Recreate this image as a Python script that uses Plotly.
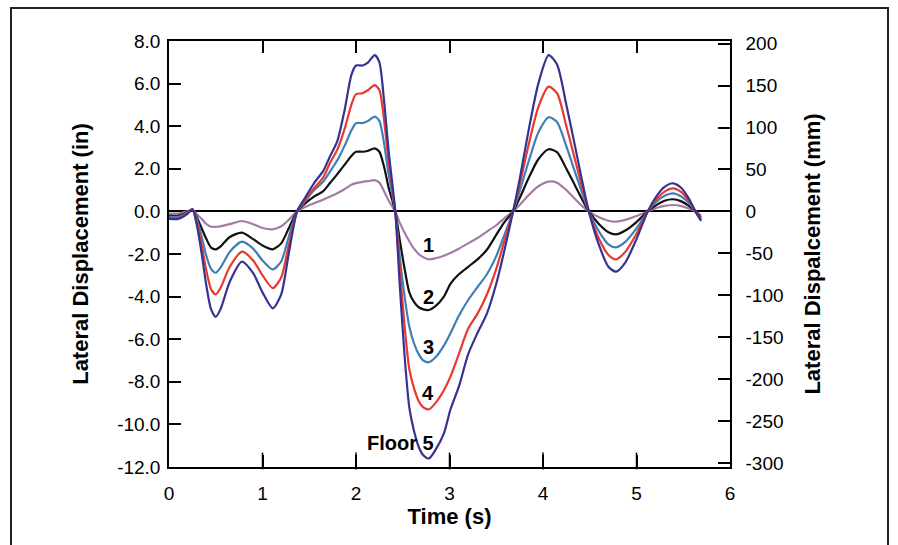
import plotly.graph_objects as go

# ---------------- data ----------------
time_s = [0.0, 0.1, 0.2, 0.25, 0.3, 0.35, 0.4, 0.45, 0.5, 0.55, 0.65, 0.78, 0.9, 1.0,
          1.11, 1.2, 1.28, 1.37, 1.45, 1.55, 1.65, 1.72, 1.8, 1.88, 1.95, 2.0, 2.07,
          2.13, 2.2, 2.25, 2.3, 2.35, 2.42, 2.47, 2.52, 2.57, 2.62, 2.67, 2.72, 2.78,
          2.85, 2.94, 3.01, 3.1, 3.2, 3.3, 3.4, 3.5, 3.58, 3.68, 3.75, 3.85, 3.95,
          4.06, 4.15, 4.25, 4.35, 4.42, 4.49, 4.6, 4.7, 4.78, 4.88, 5.0, 5.12, 5.22,
          5.3, 5.39, 5.48, 5.56, 5.63, 5.69]

floor1 = [-0.1, -0.1, 0.0, 0.08, -0.15, -0.35, -0.6, -0.72, -0.72, -0.7, -0.6, -0.45, -0.6, -0.78,
          -0.84, -0.7, -0.4, 0.0, 0.2, 0.38, 0.55, 0.69, 0.85, 1.05, 1.25, 1.33, 1.39,
          1.42, 1.47, 1.35, 0.95, 0.5, 0.0, -0.55, -1.0, -1.4, -1.75, -2.0, -2.15, -2.25,
          -2.2, -2.08, -1.95, -1.75, -1.5, -1.25, -0.95, -0.65, -0.35, 0.0, 0.3, 0.78, 1.18,
          1.40, 1.35, 1.0, 0.55, 0.25, 0.0, -0.28, -0.44, -0.48, -0.4, -0.22, 0.0, 0.17,
          0.26, 0.30, 0.25, 0.14, 0.0, -0.2]

floor2 = [-0.2, -0.2, -0.03, 0.1, -0.3, -0.8, -1.3, -1.7, -1.78, -1.65, -1.2, -1.0, -1.3, -1.6,
          -1.78, -1.5, -0.8, 0.0, 0.35, 0.69, 0.95, 1.32, 1.75, 2.2, 2.6, 2.8, 2.8,
          2.85, 2.96, 2.8, 2.1, 1.1, 0.0, -1.4, -2.7, -3.8, -4.25, -4.5, -4.6, -4.63,
          -4.45, -4.0, -3.4, -2.95, -2.6, -2.25, -1.8, -1.1, -0.55, 0.0, 0.62, 1.6, 2.45,
          2.92, 2.78, 2.0, 1.15, 0.55, 0.0, -0.6, -0.98, -1.08, -0.9, -0.5, 0.0, 0.32,
          0.5, 0.57, 0.47, 0.26, 0.0, -0.3]

floor3 = [-0.25, -0.25, -0.05, 0.1, -0.4, -1.2, -2.1, -2.7, -2.88, -2.65, -1.9, -1.42, -1.75, -2.3,
          -2.72, -2.35, -1.2, 0.0, 0.45, 0.99, 1.4, 1.86, 2.4, 3.1, 3.8, 4.14, 4.15,
          4.25, 4.45, 4.25, 3.2, 1.7, 0.0, -2.2, -4.0, -5.4, -6.19, -6.7, -7.0, -7.08,
          -6.85, -6.3, -5.72, -4.9, -4.16, -3.55, -2.95, -2.1, -1.19, 0.0, 0.95, 2.4, 3.7,
          4.42, 4.2, 3.05, 1.75, 0.85, 0.0, -0.95, -1.55, -1.69, -1.43, -0.8, 0.0, 0.48,
          0.73, 0.85, 0.7, 0.4, 0.0, -0.35]

floor4 = [-0.3, -0.3, -0.08, 0.1, -0.55, -1.6, -2.8, -3.65, -3.9, -3.6, -2.6, -1.89, -2.3, -3.0,
          -3.6, -3.1, -1.6, 0.0, 0.5, 1.08, 1.6, 2.26, 2.9, 3.9, 5.0, 5.5, 5.55,
          5.7, 5.93, 5.7, 4.3, 2.3, 0.0, -2.8, -5.4, -7.4, -8.3, -8.9, -9.2, -9.29,
          -9.0, -8.4, -7.76, -6.7, -5.5, -4.8, -3.9, -2.7, -1.5, 0.0, 1.25, 3.2, 4.9,
          5.86, 5.55, 4.0, 2.3, 1.1, 0.0, -1.3, -2.05, -2.25, -1.9, -1.05, 0.0, 0.6,
          0.93, 1.08, 0.9, 0.5, 0.0, -0.4]

floor5 = [-0.35, -0.35, -0.1, 0.1, -0.7, -2.0, -3.5, -4.6, -4.95, -4.6, -3.3, -2.36, -2.9, -3.8,
          -4.55, -3.9, -2.0, 0.0, 0.6, 1.32, 1.9, 2.57, 3.3, 4.8, 6.4, 6.85, 6.85,
          7.0, 7.34, 7.0, 5.2, 2.8, 0.0, -3.6, -6.8, -9.2, -10.3, -11.05, -11.45, -11.6,
          -11.2, -10.42, -9.3, -8.23, -6.7, -5.7, -4.8, -3.4, -1.97, 0.0, 1.5, 3.9, 6.0,
          7.34, 6.9, 5.0, 2.9, 1.4, 0.0, -1.6, -2.6, -2.83, -2.4, -1.3, 0.0, 0.75,
          1.15, 1.32, 1.1, 0.6, 0.0, -0.45]

floor_series = [floor1, floor2, floor3, floor4, floor5]
floor_names = ["1", "2", "3", "4", "Floor 5"]
floor_colors = ["#a57aa6", "#111111", "#3f7fb6", "#e8392e", "#343392"]
label_y = [-1.6, -4.0, -6.37, -8.53, -10.87]
label_x = 2.86

left_ticks = [8, 6, 4, 2, 0, -2, -4, -6, -8, -10, -12]
right_ticks = [200, 150, 100, 50, 0, -50, -100, -150, -200, -250, -300]
x_ticks = [0, 1, 2, 3, 4, 5, 6]

FONT = "Liberation Sans, Arial, sans-serif"
Y_MIN, Y_MAX = -12, 8
PLOT_H = 426
TICK_PX = 12

fig = go.Figure()
for vals, name, col in zip(floor_series, floor_names, floor_colors):
    fig.add_trace(go.Scatter(x=time_s, y=vals, mode="lines", name=name,
                             line=dict(color=col, width=2.2, shape="spline", smoothing=0.7),
                             showlegend=False))

# bottom inside tick marks (vertical line markers sitting on the time axis)
inner_x = x_ticks[1:-1]
half_tick = (TICK_PX / 2) * (Y_MAX - Y_MIN) / PLOT_H
fig.add_trace(go.Scatter(x=inner_x, y=[Y_MIN + half_tick] * len(inner_x), mode="markers",
                         marker=dict(symbol="line-ns", size=TICK_PX,
                                     line=dict(width=1.5, color="black")),
                         cliponaxis=False, showlegend=False, hoverinfo="skip"))

# placeholder traces to register the mm axis and the top tick axis
fig.add_trace(go.Scatter(x=[None], y=[None], yaxis="y2", showlegend=False, hoverinfo="skip"))
fig.add_trace(go.Scatter(x=[None], y=[None], xaxis="x2", showlegend=False, hoverinfo="skip"))

for name, ly in zip(floor_names, label_y):
    fig.add_annotation(x=label_x, y=ly, text="<b>%s</b>" % name, showarrow=False,
                       xanchor="right", yanchor="middle",
                       font=dict(family=FONT, size=20, color="black"))

# outer frame
fig.add_shape(type="rect", xref="paper", yref="paper",
              x0=(11 - 169) / 561, x1=(888 - 169) / 561,
              y0=(467 - 580) / 426, y1=(467 - 8) / 426,
              line=dict(color="#222222", width=2), fillcolor="rgba(0,0,0,0)", layer="below")

axis_common = dict(showline=True, linecolor="black", linewidth=1.5, ticks="inside",
                   ticklen=TICK_PX, tickwidth=1.5, tickcolor="black", showgrid=False,
                   tickfont=dict(family=FONT, size=19, color="black"))

fig.update_layout(
    width=898, height=545,
    margin=dict(l=169, r=168, t=41, b=78),
    paper_bgcolor="white", plot_bgcolor="white",
    xaxis=dict(range=[0, 6], tickvals=x_ticks, ticklabelstandoff=8, side="bottom",
               title=dict(text="<b>Time (s)</b>", standoff=6,
                          font=dict(family=FONT, size=22, color="black")),
               zeroline=False, **axis_common),
    xaxis2=dict(range=[0, 6], tickvals=x_ticks, overlaying="x", side="top",
                anchor="y", showticklabels=False, zeroline=False, **axis_common),
    yaxis=dict(range=[Y_MIN, Y_MAX], tickvals=left_ticks,
               ticktext=["%.1f" % v for v in left_ticks], ticklabelstandoff=3,
               zeroline=True, zerolinecolor="black", zerolinewidth=1.5,
               title=dict(text="<b>Lateral Displacement (in)</b>", standoff=22,
                          font=dict(family=FONT, size=22, color="black")),
               **axis_common),
    yaxis2=dict(range=[Y_MIN * 25.4, Y_MAX * 25.4], tickvals=right_ticks,
                ticktext=[str(v) for v in right_ticks], ticklabelstandoff=10,
                overlaying="y", side="right", anchor="x", zeroline=False,
                title=dict(text="<b>Lateral Dispalcement (mm)</b>", standoff=22,
                           font=dict(family=FONT, size=22, color="black")),
                **axis_common),
)

fig.write_html("out.html", post_script="document.body.style.margin='0px';",
               config={"displayModeBar": False})
